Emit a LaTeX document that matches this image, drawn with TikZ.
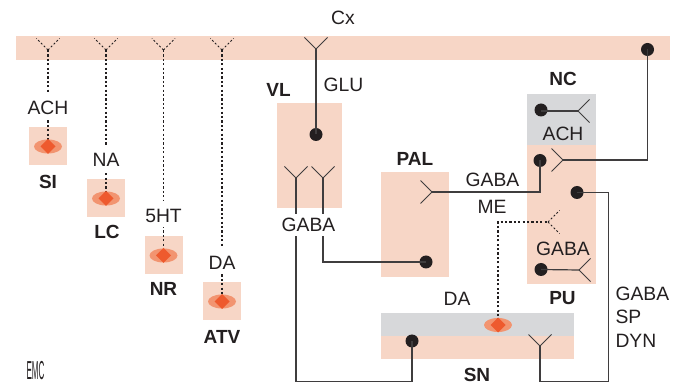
\documentclass[tikz,border=0pt]{standalone}
\usepackage{fontspec}
\setmainfont{Liberation Sans}
\usetikzlibrary{shapes.geometric}
\definecolor{pinkbg}{HTML}{F7D6C6}
\definecolor{greybg}{HTML}{D7D8DA}
\definecolor{halo}{HTML}{F29470}
\definecolor{core}{HTML}{EE5A2E}
\definecolor{ink}{HTML}{231F20}
\definecolor{wire}{HTML}{3F3D3E}
\tikzset{
  region/.style={fill=#1,draw=none,inner sep=0pt,outer sep=0pt},
  lbl/.style={text=ink,font=\fontsize{19.3}{21}\selectfont,inner sep=0pt,outer sep=0pt},
  gaplbl/.style={lbl,fill=white,minimum height=26pt,text height=18pt,text depth=0pt},
  title/.style={text=ink,font=\fontsize{19}{21}\selectfont\bfseries,inner sep=0pt,outer sep=0pt},
  dot/.style={circle,fill=ink,draw=none,minimum size=13pt,inner sep=0pt,outer sep=0pt},
  haloshape/.style={ellipse,fill=halo,draw=none,minimum width=28pt,minimum height=14pt,inner sep=0pt,outer sep=0pt},
  coreshape/.style={diamond,fill=core,draw=none,minimum width=15pt,minimum height=15pt,inner sep=0pt,outer sep=0pt},
  wireline/.style={draw=wire,line width=1.2pt,line join=miter},
  armline/.style={draw=wire,line width=1pt},
  dashline/.style={draw=ink,line width=1.1pt,dash pattern=on 2.2pt off 2.2pt},
  armdash/.style={draw=ink,line width=.9pt,dash pattern=on 2pt off 2pt},
}
\newcommand{\forkdown}[2][armline]{\draw[#1] (#2) -- ++(-11.5,-11.5) (#2) -- ++(11.5,-11.5);}
\newcommand{\forkleft}[2][armline]{\draw[#1] (#2) -- ++(-11.5,-11.5) (#2) -- ++(-11.5,11.5);}
\newcommand{\forkright}[2][armline]{\draw[#1] (#2) -- ++(11.5,-11.5) (#2) -- ++(11.5,11.5);}
\begin{document}
\begin{tikzpicture}[x=1pt,y=-1pt]
\useasboundingbox (0,0) rectangle (686,387);
% regions
\node[region=pinkbg,minimum width=654pt,minimum height=24pt] (cx) at (343,48) {};
\node[region=pinkbg,minimum width=38pt,minimum height=38pt] (si) at (48,146) {};
\node[region=pinkbg,minimum width=38pt,minimum height=38pt] (lc) at (106,198) {};
\node[region=pinkbg,minimum width=38pt,minimum height=38pt] (nr) at (163.5,255) {};
\node[region=pinkbg,minimum width=38pt,minimum height=38pt] (atv) at (222,301) {};
\node[region=pinkbg,minimum width=65pt,minimum height=105pt] (vl) at (309.5,155.5) {};
\node[region=pinkbg,minimum width=68pt,minimum height=105pt] (pal) at (415,224.5) {};
\node[region=greybg,minimum width=69pt,minimum height=51pt] (nc) at (561.5,119.5) {};
\node[region=pinkbg,minimum width=69pt,minimum height=139pt] (pu) at (561.5,214.5) {};
\node[region=pinkbg,minimum width=193pt,minimum height=45pt] (snb) at (477.5,336.5) {};
\node[region=greybg,minimum width=193pt,minimum height=23pt] (sng) at (477.5,325) {};
% halos
\foreach \n/\x/\y in {si/48/146.5,lc/106/198.5,nr/163.5/255.5,atv/222/301.5,sn/498/325}{
  \node[haloshape] (h\n) at (\x,\y) {};
}
% coordinates of forks and corners
\coordinate (fsi) at (48,50);
\coordinate (flc) at (106,50);
\coordinate (fnr) at (163.5,50);
\coordinate (fatv) at (222,50);
\coordinate (fcx) at (316,49);
\coordinate (fvla) at (296,178);
\coordinate (fvlb) at (323,178);
\coordinate (fpal) at (432,192);
\coordinate (fnc) at (578,111);
\coordinate (fpua) at (563,160);
\coordinate (fpub) at (548,222);
\coordinate (fpuc) at (579,270);
\coordinate (fsn) at (540,346);
\coordinate (cvla) at (296,381.5);
\coordinate (cdyna) at (608.5,381.5);
% dots
\node[dot] (dotvl) at (316,134.5) {};
\node[dot] (dotcx) at (647.5,49.5) {};
\node[dot] (dotnc) at (541,110) {};
\node[dot] (dotpua) at (540,160.5) {};
\node[dot] (dotpub) at (577,192.5) {};
\node[dot] (dotpuc) at (541,269.5) {};
\node[dot] (dotpal) at (426,262) {};
\node[dot] (dotsn) at (412,341) {};
% dashed connectors
\draw[dashline] (fsi) -- (hsi.center);
\draw[dashline] (flc) -- (hlc.center);
\draw[dashline] (fnr) -- (hnr.center);
\draw[dashline] (fatv) -- (hatv.center);
\draw[dashline] (hsn.center) |- (fpub);
\forkdown[armdash]{fsi}
\forkdown[armdash]{flc}
\forkdown[armdash]{fnr}
\forkdown[armdash]{fatv}
\forkright[armdash]{fpub}
% cores
\foreach \n/\x/\y in {si/48/146.5,lc/106/198.5,nr/163.5/255.5,atv/222/301.5,sn/498/325}{
  \node[coreshape] (d\n) at (\x,\y) {};
}
% solid connectors
\draw[wireline] (fcx) -- (dotvl.center);
\forkdown{fcx}
\forkdown{fvla}
\forkdown{fvlb}
\draw[wireline] (fvla) -- (cvla) -| (dotsn.center);
\draw[wireline] (fvlb) |- (dotpal.center);
\forkleft{fpal}
\draw[wireline] (fpal) -| (dotpua.center);
\draw[wireline] (dotnc.center |- fnc) -- (fnc);
\forkright{fnc}
\draw[wireline] (fpua) -| (dotcx.center);
\forkleft{fpua}
\draw[wireline] (dotpub.center) -| (cdyna) -| (fsn);
\forkdown{fsn}
\draw[wireline] (dotpuc.center) -- (fpuc);
\forkright{fpuc}
% labels over connectors
\node[gaplbl] (tach) at (48,106) {ACH};
\node[gaplbl] (tna) at (106,158) {NA};
\node[gaplbl] (t5ht) at (163.5,214) {5HT};
\node[gaplbl] (tda) at (222,261) {DA};
\node[gaplbl,minimum width=58pt,minimum height=22pt,text height=14pt] (tgabavl) at (308.5,225) {GABA};
% plain labels
\node[lbl] (tcx) at (343,18) {Cx};
\node[lbl] (tglu) at (343.5,85) {GLU};
\node[lbl] (tgabapal) at (492.5,180) {GABA};
\node[lbl] (tme) at (492,207) {ME};
\node[lbl] (tachnc) at (563,133.5) {ACH};
\node[lbl] (tgabapu) at (563,249) {GABA};
\node[lbl] (tdasn) at (457,299) {DA};
\node[lbl,anchor=west] (tgs) at (615.5,294) {GABA};
\node[lbl,anchor=west] (tsp) at (615.5,317) {SP};
\node[lbl,anchor=west] (tdyn) at (615.5,341) {DYN};
% titles
\node[title] (lsi) at (48,182) {SI};
\node[title] (llc) at (107,232) {LC};
\node[title] (lnr) at (163.5,289) {NR};
\node[title] (latv) at (222,336.5) {ATV};
\node[title] (lvl) at (278.5,89.5) {VL};
\node[title] (lpal) at (415,159) {PAL};
\node[title] (lnc) at (563,79) {NC};
\node[title] (lpu) at (562.5,298.5) {PU};
\node[title] (lsn) at (477,374.5) {SN};
\node[text=ink,font=\fontsize{13}{14}\selectfont,xscale=.62,yscale=2,inner sep=0pt] (emc) at (35.5,371) {EMC};
\end{tikzpicture}
\end{document}
